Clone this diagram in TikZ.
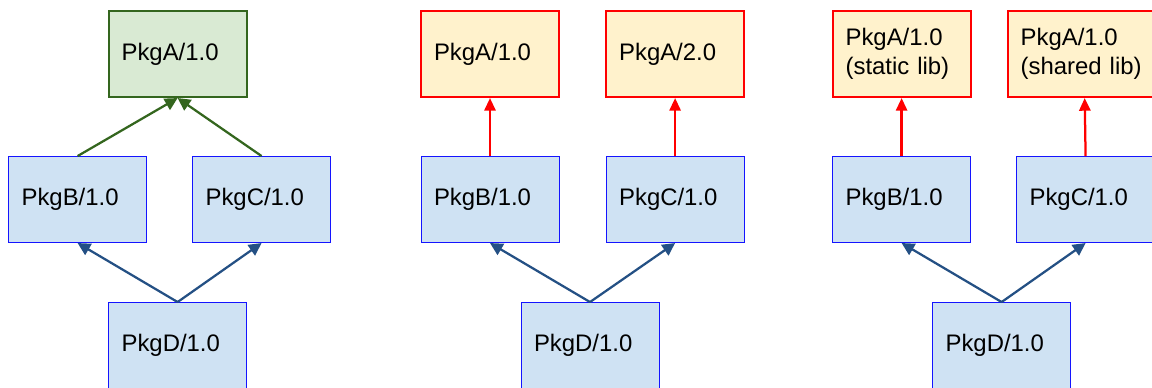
\documentclass[tikz,border=0pt]{standalone}
\usepackage{fontspec}
\setmainfont{Liberation Sans}
\usetikzlibrary{
  arrows.meta,
  positioning
}
\definecolor{pkgbg}{RGB}{207,226,243}
\definecolor{pkgborder}{RGB}{20,20,255}
\definecolor{rootbg}{RGB}{217,234,211}
\definecolor{rootgreen}{RGB}{52,102,30}
\definecolor{clashbg}{RGB}{255,242,204}
\definecolor{clashred}{RGB}{255,0,0}
\definecolor{deepblue}{RGB}{36,80,132}
\tikzset{
  pkgbox/.style={
    draw=pkgborder, fill=pkgbg, line width=0.7pt,
    minimum height=2.15cm, text width=2.8cm,
    inner xsep=0.325cm, align=left,
    font=\fontsize{17}{20.6}\selectfont
  },
  rootbox/.style={
    pkgbox, draw=rootgreen, fill=rootbg, line width=1.5pt
  },
  clashbox/.style={
    pkgbox, draw=clashred, fill=clashbg, line width=1.5pt
  },
  deparrow/.style={
    -{Triangle[length=9pt,width=9pt]},
    draw=deepblue, line width=1.6pt
  },
  rootarrow/.style={
    -{Triangle[length=9pt,width=9pt]},
    draw=rootgreen, line width=1.6pt
  },
  clasharrow/.style={
    -{Triangle[length=9pt,width=8pt]},
    draw=clashred, line width=1.6pt
  },
}

\begin{document}
\begin{tikzpicture}

  \useasboundingbox (0,0) rectangle (28.8,-9.7);

  %% Diamond, one PkgA
  \node[rootbox] (a1) at (4.44,-1.35) {PkgA/1.0};
  \node[pkgbox, below=1.45cm of a1, xshift=-2.5cm] (b1) {PkgB/1.0};
  \node[pkgbox, right=1.125cm of b1] (c1) {PkgC/1.0};
  \node[pkgbox, below=1.475cm of b1, xshift=2.5cm] (d1) {PkgD/1.0};

  \draw[rootarrow] (b1.north) -- (a1.south);
  \draw[rootarrow] (c1.north) -- (a1.south);
  \draw[deparrow] (d1.north) -- (b1.south);
  \draw[deparrow] (d1.north) -- (c1.south);

  %% Version conflict
  \node[clashbox] (a2) at (12.25,-1.35) {PkgA/1.0};
  \node[clashbox, right=1.125cm of a2] (e2) {PkgA/2.0};
  \node[pkgbox, below=1.45cm of a2] (b2) {PkgB/1.0};
  \node[pkgbox, below=1.45cm of e2] (c2) {PkgC/1.0};
  \node[pkgbox, below=1.475cm of b2, xshift=2.5cm] (d2) {PkgD/1.0};

  \draw[clasharrow] (b2.north) -- (a2.south);
  \draw[clasharrow] (c2.north) -- (e2.south);
  \draw[deparrow] (d2.north) -- (b2.south);
  \draw[deparrow] (d2.north) -- (c2.south);

  %% Static vs shared
  \node[clashbox] (a3) at (22.54,-1.35) {PkgA/1.0\\(static lib)};
  \node[clashbox, text width=3.2cm, right=0.875cm of a3] (e3)
    {PkgA/1.0\\(shared lib)};
  \node[pkgbox, below=1.45cm of a3] (b3) {PkgB/1.0};
  \node[pkgbox, right=1.125cm of b3] (c3) {PkgC/1.0};
  \node[pkgbox, below=1.475cm of b3, xshift=2.5cm] (d3) {PkgD/1.0};

  \draw[clasharrow] (b3.north) -- (a3.south);
  \draw[clasharrow] (c3.north) -- (e3.south);
  \draw[deparrow] (d3.north) -- (b3.south);
  \draw[deparrow] (d3.north) -- (c3.south);

\end{tikzpicture}
\end{document}
